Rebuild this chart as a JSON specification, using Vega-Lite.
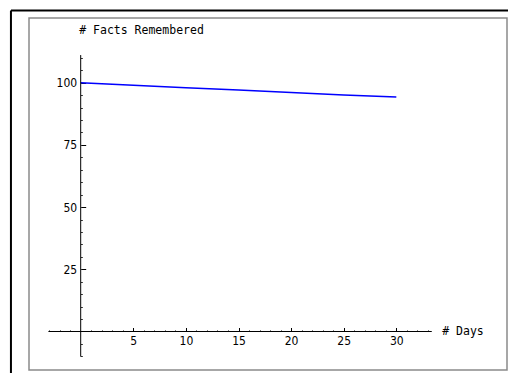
{
  "$schema": "https://vega.github.io/schema/vega-lite/v6.json",
  "autosize": {"type": "none"},
  "padding": {"left": 29, "top": 18, "right": 1, "bottom": 3},
  "width": 478,
  "height": 352,
  "background": "white",
  "view": {"stroke": "#8a8a8a", "strokeWidth": 1.5},
  "config": {
    "axis": {"grid": false, "domain": false, "tickColor": "black", "labelColor": "black", "titleColor": "black"}
  },
  "resolve": {"axis": {"x": "independent", "y": "independent"}},
  "layer": [
    {
      "data": {"values": [
        {"day": 0, "facts": 100.0},
        {"day": 5, "facts": 99.0},
        {"day": 10, "facts": 98.0},
        {"day": 15, "facts": 97.1},
        {"day": 20, "facts": 96.1},
        {"day": 25, "facts": 95.1},
        {"day": 30, "facts": 94.2}
      ]},
      "mark": {"type": "line", "color": "#0000ff", "strokeWidth": 1.5, "clip": false},
      "encoding": {
        "x": {"field": "day", "type": "quantitative",
          "scale": {"domain": [-4.914, 40.52], "nice": false, "zero": false},
          "axis": {"orient": "bottom", "offset": {"expr": "scale('x', 0) * 0 + scale('y', 0) - height"}, "values": [5, 10, 15, 20, 25, 30],
            "tickSize": -4, "tickWidth": 1, "labelPadding": 8, "labelFont": "DejaVu Sans Condensed, DejaVu Sans", "labelFontSize": 12,
            "title": "# Days", "titleFont": "DejaVu Sans Mono", "titleFontSize": 11.5, "titleFontWeight": "normal",
            "titleAngle": 0, "titleAlign": "left", "titleBaseline": "middle", "titleX": 412.7, "titleY": 0}},
        "y": {"field": "facts", "type": "quantitative",
          "scale": {"domain": [-15.47, 126.0], "nice": false, "zero": false},
          "axis": {"orient": "left", "offset": {"expr": "-scale('x', 0)"}, "values": [25, 50, 75, 100],
            "tickSize": -5, "tickWidth": 1, "labelPadding": 9, "labelFont": "DejaVu Sans Condensed, DejaVu Sans", "labelFontSize": 12,
            "title": "# Facts Remembered", "titleFont": "DejaVu Sans Mono", "titleFontSize": 11.5, "titleFontWeight": "normal",
            "titleAngle": 0, "titleAlign": "left", "titleBaseline": "middle", "titleX": -2, "titleY": 12}}
      }
    },
    {
      "data": {"values": [{"x": -3.07, "x2": 33.37, "y": 0}]},
      "mark": {"type": "rule", "color": "black", "strokeWidth": 1},
      "encoding": {
        "x": {"field": "x", "type": "quantitative",
          "axis": {"orient": "bottom", "offset": {"expr": "scale('y', 0) - height"}, "values": [-3, -2, -1, 1, 2, 3, 4, 6, 7, 8, 9, 11, 12, 13, 14, 16, 17, 18, 19, 21, 22, 23, 24, 26, 27, 28, 29, 31, 32, 33],
            "tickSize": -1.5, "tickWidth": 1, "labels": false, "title": null}},
        "x2": {"field": "x2"},
        "y": {"field": "y", "type": "quantitative",
          "axis": {"orient": "left", "offset": {"expr": "-scale('x', 0)"}, "values": [-10, -5, 5, 10, 15, 20, 30, 35, 40, 45, 55, 60, 65, 70, 80, 85, 90, 95, 105, 110],
            "tickSize": -1.5, "tickWidth": 1, "labels": false, "title": null}}
      }
    },
    {
      "data": {"values": [{"x": 0, "y": -10.13, "y2": 111.1}]},
      "mark": {"type": "rule", "color": "black", "strokeWidth": 1},
      "encoding": {
        "x": {"field": "x", "type": "quantitative", "axis": null},
        "y": {"field": "y", "type": "quantitative", "axis": null},
        "y2": {"field": "y2"}
      }
    },
    {
      "data": {"values": [
        {"x": -6.63, "x2": 41, "y": 129.0, "y2": 129.0},
        {"x": -6.63, "x2": -6.63, "y": 129.0, "y2": -17}
      ]},
      "mark": {"type": "rule", "color": "black", "strokeWidth": 2, "clip": false},
      "encoding": {
        "x": {"field": "x", "type": "quantitative", "axis": null},
        "x2": {"field": "x2"},
        "y": {"field": "y", "type": "quantitative", "axis": null},
        "y2": {"field": "y2"}
      }
    }
  ]
}
